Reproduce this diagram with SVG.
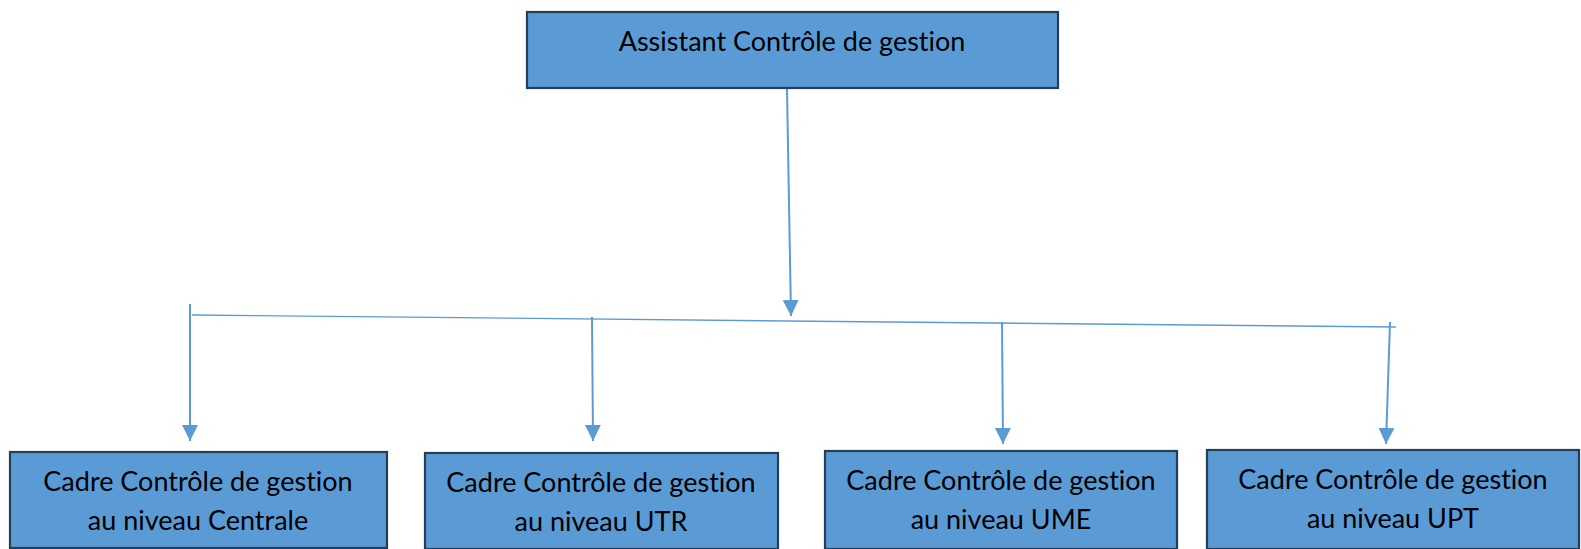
<svg xmlns="http://www.w3.org/2000/svg" width="1581" height="549" viewBox="0 0 1581 549">
<style>
.box{fill:#5B9BD5;stroke:#253E58;stroke-width:2.2}
.lbl{font-family:Lato,"Liberation Sans",sans-serif;font-size:27px;fill:#000;text-anchor:middle;font-variant-ligatures:none}
.con{stroke:#5B9BD5;stroke-width:2;fill:none}
.bar{stroke:#5B9BD5;stroke-width:1.4;fill:none}
</style>
<defs>
<marker id="ah" markerUnits="userSpaceOnUse" markerWidth="18" markerHeight="18" viewBox="0 0 18 18" refX="16" refY="9" orient="auto">
<path d="M0,1 L16,9 L0,17 z" fill="#5B9BD5"/>
</marker>
</defs>
<rect width="1581" height="549" fill="#fff"/>
<g id="connectors">
<line class="con" x1="787" y1="89" x2="791" y2="316" marker-end="url(#ah)"/>
<line class="bar" x1="192" y1="315" x2="1396" y2="327"/>
<line class="con" x1="190" y1="304" x2="190" y2="441" marker-end="url(#ah)"/>
<line class="con" x1="592" y1="317" x2="593" y2="441" marker-end="url(#ah)"/>
<line class="con" x1="1002" y1="322" x2="1003" y2="444" marker-end="url(#ah)"/>
<line class="con" x1="1390" y1="322" x2="1386" y2="444" marker-end="url(#ah)"/>
</g>
<g id="n0">
<rect class="box" x="527" y="12" width="531" height="76"/>
<text class="lbl" x="792" y="51">Assistant Contrôle de gestion</text>
</g>
<g id="n1">
<rect class="box" x="10" y="452" width="377" height="96"/>
<text class="lbl" x="198" y="491">Cadre Contrôle de gestion</text>
<text class="lbl" x="198" y="530">au niveau Centrale</text>
</g>
<g id="n2">
<rect class="box" x="425" y="453" width="353" height="96"/>
<text class="lbl" x="601" y="492">Cadre Contrôle de gestion</text>
<text class="lbl" x="601" y="531">au niveau UTR</text>
</g>
<g id="n3">
<rect class="box" x="825" y="451" width="352" height="98"/>
<text class="lbl" x="1001" y="490">Cadre Contrôle de gestion</text>
<text class="lbl" x="1001" y="529">au niveau UME</text>
</g>
<g id="n4">
<rect class="box" x="1207" y="450" width="372" height="99"/>
<text class="lbl" x="1393" y="489">Cadre Contrôle de gestion</text>
<text class="lbl" x="1393" y="528">au niveau UPT</text>
</g>
</svg>
